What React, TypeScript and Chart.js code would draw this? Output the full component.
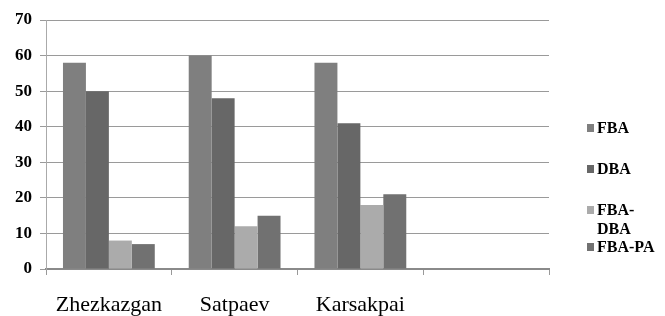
import React, { useEffect, useRef } from "react";
import { Chart, registerables } from "chart.js";

Chart.register(...registerables);

const categories = ["Zhezkazgan", "Satpaev", "Karsakpai", ""];
const seriesNames = ["FBA", "DBA", "FBA-DBA", "FBA-PA"];
const fbaValues = [58, 60, 58, null];
const dbaValues = [50, 48, 41, null];
const fbaDbaValues = [8, 12, 18, null];
const fbaPaValues = [7, 15, 21, null];
const seriesColors = ["#7f7f7f", "#676767", "#ababab", "#717171"];
const yTicks = [0, 10, 20, 30, 40, 50, 60, 70];

const SERIF = "Liberation Serif";

const legendPlugin = {
  id: "sideLegend",
  afterDraw(chart: any) {
    const ctx = chart.ctx;
    ctx.save();
    ctx.font = "bold 16px " + SERIF;
    ctx.textBaseline = "middle";
    ctx.textAlign = "left";
    const boxX = chart.chartArea.right + 38;
    const textX = boxX + 10;
    const maxW = 65;
    let y = 129;
    chart.data.datasets.forEach((ds: any) => {
      const text: string = ds.label;
      let lines: string[] = [text];
      if (ctx.measureText(text).width > maxW && text.includes("-")) {
        const i = text.indexOf("-");
        lines = [text.slice(0, i + 1), text.slice(i + 1)];
      }
      ctx.fillStyle = ds.backgroundColor;
      ctx.fillRect(boxX, y - 5, 7, 8);
      ctx.fillStyle = "#000";
      lines.forEach((ln, k) => ctx.fillText(ln, textX, y + k * 19));
      y += lines.length > 1 ? 19 * (lines.length - 1) + 18 : 41;
    });
    ctx.restore();
  },
};

export default function App() {
  const ref = useRef<HTMLCanvasElement>(null);
  useEffect(() => {
    document.body.style.margin = "0";
    const values = [fbaValues, dbaValues, fbaDbaValues, fbaPaValues];
    const chart = new Chart(ref.current!, {
      type: "bar",
      data: {
        labels: categories,
        datasets: seriesNames.map((name, i) => ({
          label: name,
          data: values[i],
          backgroundColor: seriesColors[i],
          borderWidth: 0,
          categoryPercentage: 0.73,
          barPercentage: 1,
        })),
      },
      options: {
        responsive: false,
        animation: false,
        layout: { padding: { left: 0, right: 116, top: 20, bottom: 0 } },
        plugins: {
          legend: { display: false },
          tooltip: { enabled: false },
        },
        scales: {
          x: {
            offset: true,
            grid: {
              display: true,
              offset: true,
              drawOnChartArea: false,
              drawTicks: true,
              tickLength: 6,
              color: "#999999",
            },
            border: { display: true, color: "#8a8a8a", width: 2 },
            ticks: {
              color: "#000",
              font: { family: SERIF, size: 22 },
              padding: 17,
              maxRotation: 0,
              autoSkip: false,
            },
            afterFit(scale: any) {
              scale.height = 47;
            },
          },
          y: {
            min: 0,
            max: 70,
            afterBuildTicks(scale: any) {
              scale.ticks = yTicks.map((v) => ({ value: v }));
            },
            grid: {
              color: "#9a9a9a",
              lineWidth: 1,
              tickLength: 6,
              drawTicks: true,
            },
            border: { display: true, color: "#aaaaaa", width: 1 },
            ticks: {
              color: "#000",
              font: { family: SERIF, size: 17, weight: "bold" },
              padding: 8,
            },
            afterFit(scale: any) {
              scale.width = 46;
            },
          },
        },
      },
      plugins: [legendPlugin],
    });
    return () => chart.destroy();
  }, []);
  return (
    <div style={{ width: 665, height: 316, background: "#fff" }}>
      <canvas ref={ref} width={665} height={316} style={{ display: "block" }} />
    </div>
  );
}
